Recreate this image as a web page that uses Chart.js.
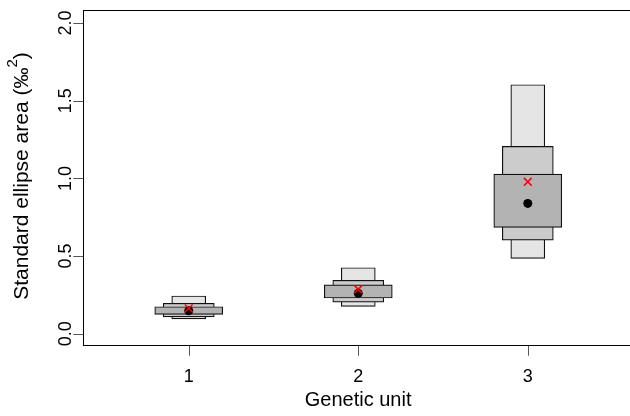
<!DOCTYPE html>
<html>
<head>
<meta charset="utf-8">
<script src="https://cdn.jsdelivr.net/npm/chart.js@4.4.1/dist/chart.umd.min.js"></script>
<style>
  html, body { margin: 0; padding: 0; background: #fff; overflow: hidden; }
  #wrap { width: 630px; height: 416px; overflow: hidden; }
</style>
</head>
<body>
<div id="wrap"><canvas id="sea" width="640" height="416"></canvas></div>
<script>
// groups on the x axis
const units = [1, 2, 3];
// credible interval boxes (95%, 75%, 50%) -> lower / upper
const ci95Low = [0.095, 0.176, 0.485];
const ci95High = [0.243, 0.425, 1.603];
const ci75Low = [0.109, 0.204, 0.603];
const ci75High = [0.196, 0.344, 1.206];
const ci50Low = [0.125, 0.230, 0.685];
const ci50High = [0.174, 0.315, 1.028];
// mode of posterior and sample SEAc
const modeVals = [0.148, 0.260, 0.839];
const seacVals = [0.163, 0.286, 0.978];
const yTicks = [0, 0.5, 1, 1.5, 2];
const yTickLabels = ['0.0', '0.5', '1.0', '1.5', '2.0'];
const xTickLabels = ['1', '2', '3'];

const FONT = '"Liberation Sans", Arial, Helvetica, sans-serif';

function boxData(lo, hi) {
  return units.map((u, i) => ({ x: u, y: [lo[i], hi[i]] }));
}
function ptData(vals) {
  return units.map((u, i) => ({ x: u, y: vals[i] }));
}

// cadre, ticks et textes façon R
const rStyle = {
  id: 'rStyle',
  afterDraw(chart) {
    const c = chart.ctx;
    const a = chart.chartArea;
    const xs = chart.scales.x;
    const ys = chart.scales.y;
    c.save();
    c.strokeStyle = '#000';
    c.lineWidth = 1;
    c.strokeRect(Math.round(a.left) + 0.5, Math.round(a.top) + 0.5,
      Math.round(a.right - a.left), Math.round(a.bottom - a.top));
    // ticks
    c.strokeStyle = '#555';
    c.beginPath();
    units.forEach(u => {
      const px = Math.round(xs.getPixelForValue(u)) + 0.5;
      c.moveTo(px, a.bottom);
      c.lineTo(px, a.bottom + 10);
    });
    yTicks.forEach(v => {
      const py = Math.round(ys.getPixelForValue(v)) + 0.5;
      c.moveTo(a.left, py);
      c.lineTo(a.left - 10, py);
    });
    c.stroke();
    // labels
    c.fillStyle = '#000';
    c.font = '18px ' + FONT;
    c.textAlign = 'center';
    c.textBaseline = 'middle';
    units.forEach((u, i) => {
      c.fillText(xTickLabels[i], xs.getPixelForValue(u), a.bottom + 31);
    });
    yTicks.forEach((v, i) => {
      c.save();
      c.translate(a.left - 17, ys.getPixelForValue(v));
      c.rotate(-Math.PI / 2);
      c.fillText(yTickLabels[i], 0, 0);
      c.restore();
    });
    c.font = '20px ' + FONT;
    c.fillText('Genetic unit', (a.left + a.right) / 2, 400);
    // titre y avec exposant
    const p1 = 'Standard ellipse area (‰', p2 = '2', p3 = ')';
    const big = '21px ' + FONT, small = '15px ' + FONT;
    c.font = big;
    const w1 = c.measureText(p1).width, w3 = c.measureText(p3).width;
    c.font = small;
    const w2 = c.measureText(p2).width;
    const tot = w1 + w2 + w3;
    c.save();
    c.translate(22, (a.top + a.bottom) / 2 - 2);
    c.rotate(-Math.PI / 2);
    c.textAlign = 'left';
    c.font = big;
    c.fillText(p1, -tot / 2, 0);
    c.font = small;
    c.fillText(p2, -tot / 2 + w1, -9);
    c.font = big;
    c.fillText(p3, -tot / 2 + w1 + w2, 0);
    c.restore();
    c.restore();
  }
};

const boxStyle = { borderColor: '#111', borderWidth: 1.2, borderSkipped: false, grouped: false };

new Chart(document.getElementById('sea'), {
  type: 'bar',
  data: {
    datasets: [
      { type: 'scatter', label: 'SEAc', data: ptData(seacVals), pointStyle: 'crossRot',
        pointRadius: 5.5, borderColor: '#ff0000', borderWidth: 1.6, backgroundColor: '#ff0000' },
      { type: 'scatter', label: 'mode', data: ptData(modeVals), pointStyle: 'circle',
        pointRadius: 4.5, borderColor: '#000', borderWidth: 0, backgroundColor: '#000' },
      Object.assign({ label: '50%', data: boxData(ci50Low, ci50High), backgroundColor: '#b3b3b3', barThickness: 68 }, boxStyle),
      Object.assign({ label: '75%', data: boxData(ci75Low, ci75High), backgroundColor: '#cccccc', barThickness: 51 }, boxStyle),
      Object.assign({ label: '95%', data: boxData(ci95Low, ci95High), backgroundColor: '#e5e5e5', barThickness: 34 }, boxStyle)
    ]
  },
  options: {
    responsive: false,
    animation: false,
    devicePixelRatio: 1,
    layout: { padding: { top: 10.3, right: 6, left: 0, bottom: 0 } },
    plugins: { legend: { display: false }, tooltip: { enabled: false } },
    scales: {
      x: {
        type: 'linear', min: 0.378, max: 3.62, offset: false,
        afterFit: s => { s.height = 70.3; },
        ticks: { display: false },
        grid: { display: false },
        border: { display: false }
      },
      y: {
        type: 'linear', min: -0.077, max: 2.082,
        afterFit: s => { s.width = 83.3; },
        ticks: { display: false },
        grid: { display: false },
        border: { display: false }
      }
    }
  },
  plugins: [rStyle]
});
</script>
</body>
</html>
